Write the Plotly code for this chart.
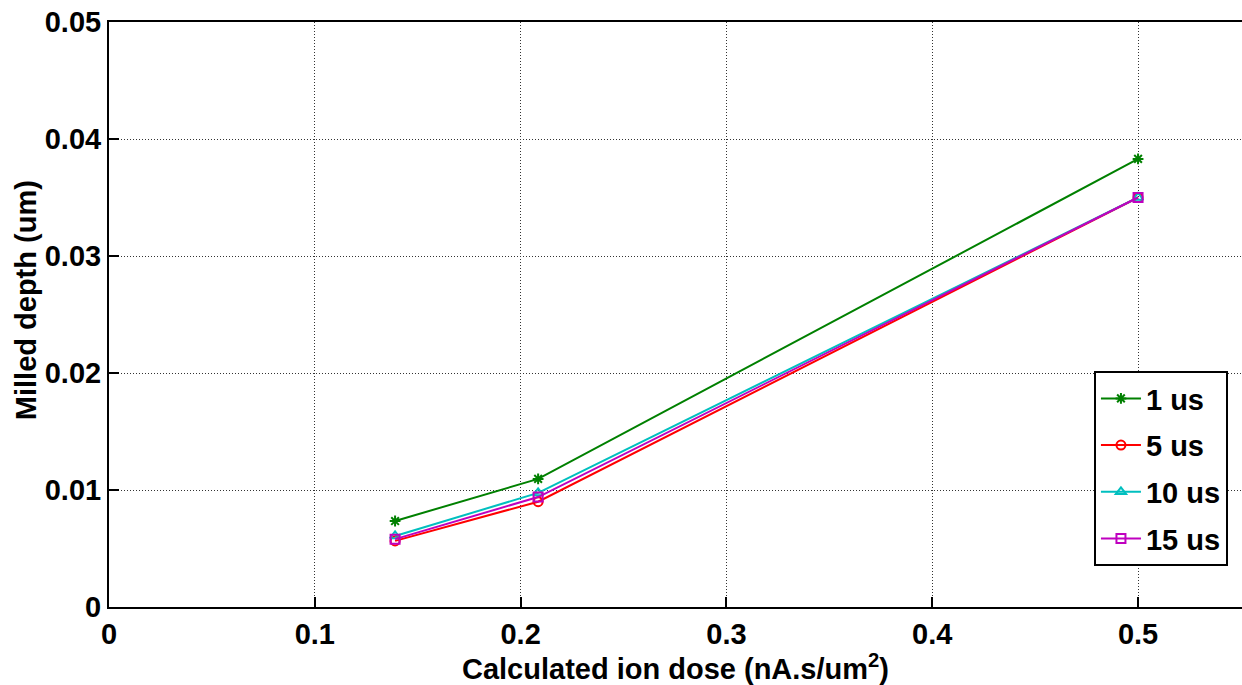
import plotly.graph_objects as go

# Calculated ion dose (nA.s/um^2)
dose = [0.139, 0.2085, 0.5]

# Milled depth (um) for each dwell time
depth_1us = [0.00735, 0.01095, 0.0383]
depth_5us = [0.00565, 0.0090, 0.0350]
depth_10us = [0.00607, 0.00975, 0.0350]
depth_15us = [0.00580, 0.0094, 0.0350]

series_names = ["1 us", "5 us", "10 us", "15 us"]
x_ticks = [0, 0.1, 0.2, 0.3, 0.4, 0.5]
x_tick_text = ["0", "0.1", "0.2", "0.3", "0.4", "0.5"]
y_ticks = [0, 0.01, 0.02, 0.03, 0.04, 0.05]
y_tick_text = ["0", "0.01", "0.02", "0.03", "0.04", "0.05"]

colors = ["#008000", "#ff0000", "#00bfbf", "#bf00bf"]
symbols = ["asterisk-open", "circle-open", "triangle-up-open", "square-open"]
all_depths = [depth_1us, depth_5us, depth_10us, depth_15us]

font_family = "Liberation Sans, Arial, sans-serif"
bold29 = dict(family=font_family, size=29, color="black", weight="bold")

fig = go.Figure()
for i, (name, ys, col, sym) in enumerate(zip(series_names, all_depths, colors, symbols)):
    fig.add_trace(go.Scatter(
        x=dose, y=ys, name=name, mode="lines+markers", legendgroup=f"g{i}",
        line=dict(color=col, width=2),
        marker=dict(symbol=sym, size=9, color=col, line=dict(color=col, width=2)),
    ))

axis_common = dict(
    showline=True, linecolor="black", linewidth=2,
    showgrid=True, gridcolor="#333333", griddash="1px,2px", gridwidth=1,
    ticks="inside", ticklen=10, tickcolor="black", tickwidth=2,
    zeroline=False,
    tickfont=bold29,
)

fig.update_layout(
    width=1242, height=685,
    margin=dict(l=109, r=0, t=22, b=78),
    paper_bgcolor="white", plot_bgcolor="white",
    font=dict(family=font_family, color="black"),
    xaxis=dict(
        range=[0, 0.5505], tickvals=x_ticks, ticktext=x_tick_text,
        mirror=True,
        title=dict(text="Calculated ion dose (nA.s/um<sup>2</sup>)", font=bold29, standoff=4),
        **axis_common,
    ),
    yaxis=dict(
        range=[0, 0.05], tickvals=y_ticks, ticktext=y_tick_text,
        mirror=False,
        **axis_common,
    ),
    legend=dict(
        x=0.9876, y=0.070, xanchor="right", yanchor="bottom",
        bgcolor="white", bordercolor="black", borderwidth=2,
        font=bold29, tracegroupgap=6, itemwidth=40,
        entrywidth=140, entrywidthmode="pixels",
    ),
    showlegend=True,
    annotations=[dict(
        text="Milled depth (um)", textangle=-90, font=bold29,
        xref="paper", yref="paper", x=-0.073, y=0.525,
        xanchor="center", yanchor="middle", showarrow=False,
    )],
)

fig.write_html("out.html")
